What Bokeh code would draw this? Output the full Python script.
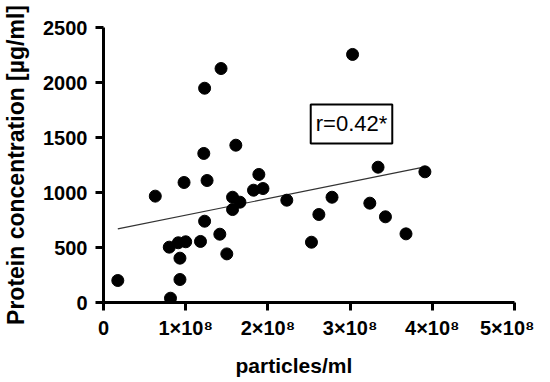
import numpy as np
from bokeh.plotting import figure
from bokeh.models import Label, Title, FixedTicker
from bokeh.embed import file_html
from bokeh.resources import INLINE

# data (particles/ml, protein concentration µg/ml)
particles = [0.174e8, 0.63e8, 0.80e8, 0.815e8, 0.91e8, 0.93e8, 0.93e8, 0.98e8,
             1.00e8, 1.18e8, 1.22e8, 1.23e8, 1.23e8, 1.26e8, 1.415e8, 1.43e8,
             1.50e8, 1.57e8, 1.57e8, 1.61e8, 1.66e8, 1.825e8, 1.89e8, 1.94e8,
             2.23e8, 2.53e8, 2.62e8, 2.78e8, 3.03e8, 3.24e8, 3.34e8, 3.43e8,
             3.68e8, 3.91e8]
protein = [200, 967, 503, 39, 543, 403, 209, 1091,
           552, 555, 1355, 1948, 739, 1109, 621, 2127,
           442, 957, 845, 1430, 912, 1021, 1164, 1036,
           930, 548, 800, 957, 2255, 903, 1230, 779,
           624, 1188]
x_ticks = [0, 1e8, 2e8, 3e8, 4e8, 5e8]
x_tick_labels = ["0", "1×10⁸", "2×10⁸", "3×10⁸", "4×10⁸", "5×10⁸"]
y_ticks = [0, 500, 1000, 1500, 2000, 2500]
r_text = "r=0.42*"

FONT = "Liberation Sans"

p = figure(frame_width=411, frame_height=275, x_range=(0, 5e8), y_range=(0, 2500),
           output_backend="svg", toolbar_location=None,
           min_border_left=97, min_border_top=27, min_border_right=20, min_border_bottom=64)
p.outline_line_color = None
p.xgrid.visible = False
p.ygrid.visible = False
p.background_fill_color = "white"
p.border_fill_color = "white"

for ax in (p.xaxis[0], p.yaxis[0]):
    ax.axis_line_width = 3
    ax.axis_line_color = "black"
    ax.major_tick_line_width = 3
    ax.major_tick_line_color = "black"
    ax.major_tick_out = 8
    ax.major_tick_in = 0
    ax.minor_tick_line_color = None
    ax.major_label_text_font = FONT
    ax.major_label_text_font_style = "bold"
    ax.major_label_text_font_size = "20px"
    ax.major_label_text_color = "black"

p.xaxis.ticker = FixedTicker(ticks=x_ticks)
p.xaxis.major_label_overrides = {t: l for t, l in zip(x_ticks, x_tick_labels)}
p.xaxis.major_label_standoff = 6
p.yaxis.ticker = FixedTicker(ticks=y_ticks)
p.yaxis.major_label_standoff = 8

p.yaxis.axis_label = "Protein concentration [µg/ml]"
p.yaxis.axis_label_text_font = FONT
p.yaxis.axis_label_text_font_style = "bold"
p.yaxis.axis_label_text_font_size = "23px"
p.yaxis.axis_label_text_color = "black"
p.yaxis.axis_label_standoff = 11

xt = Title(text="particles/ml", align="left", offset=132, text_font=FONT,
           text_font_style="bold", text_font_size="21px", text_color="black", standoff=20)
p.add_layout(xt, "below")

# regression line
xa = np.array(particles)
ya = np.array(protein)
k, b = np.polyfit(xa, ya, 1)
lx = [xa.min(), xa.max()]
ly = [k * lx[0] + b, k * lx[1] + b]
p.line(lx, ly, line_color="#333333", line_width=1.2)

p.scatter(particles, protein, size=12, fill_color="black", line_color="black")

lab = Label(x=3.017e8, y=1623, text=r_text, text_align="center", text_baseline="middle",
            text_font=FONT, text_font_size="22px", text_color="black",
            border_line_color="black", border_line_width=2, background_fill_color="white",
            padding=(5, 7))
p.add_layout(lab)

open("out.html", "w").write(file_html(p, INLINE))
